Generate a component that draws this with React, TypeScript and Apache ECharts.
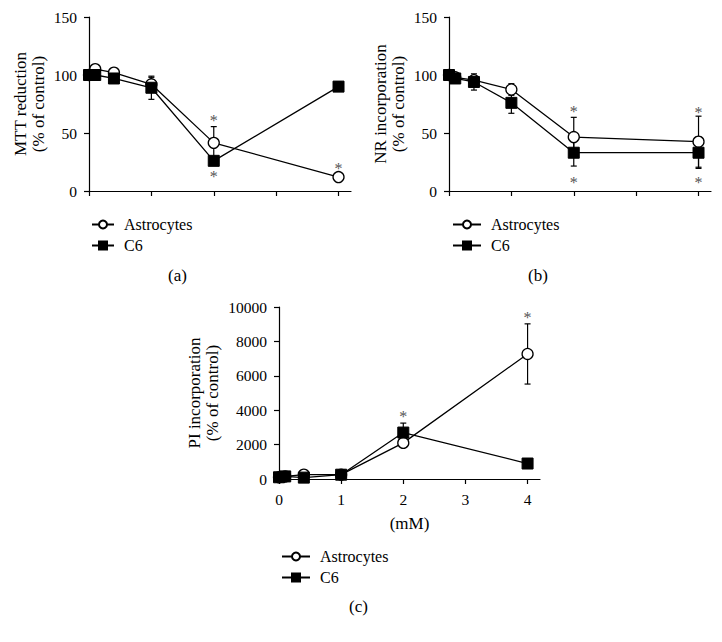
import React, { useEffect, useRef } from "react";
import * as echarts from "echarts";

const doses = [0, 0.1, 0.4, 1, 2, 4];
const xTicks = [0, 1, 2, 3, 4];

const mttAstro = [100, 105, 102, 92, 41.5, 12];
const mttAstroErr = [0, 0, 1, 6, 14, 2];
const mttC6 = [100, 100, 97, 89, 26, 90];
const mttC6Err = [0, 0, 1, 10, 3, 4];
const mttStarX = [2, 2, 4];
const mttStarY = [64, 16, 23];

const nrAstro = [100, 98, 95.5, 87.5, 46.5, 42.5];
const nrAstroErr = [0, 0, 4, 5, 17, 22];
const nrC6 = [100, 97, 94, 76, 33, 33];
const nrC6Err = [0, 1, 7, 9, 11.5, 13.5];
const nrStarX = [2, 2, 4, 4];
const nrStarY = [72, 11, 71.5, 11];

const piAstro = [100, 150, 250, 250, 2100, 7270];
const piAstroErr = [0, 0, 0, 0, 150, 1750];
const piC6 = [100, 150, 80, 250, 2700, 900];
const piC6Err = [0, 0, 0, 0, 550, 100];
const piStarX = [2, 4];
const piStarY = [3850, 9650];

const FONT = "Liberation Serif";

export default function App() {
  const ref = useRef<HTMLDivElement>(null);
  useEffect(() => {
    if (!ref.current) return;
    const chart = echarts.init(ref.current, null, { renderer: "svg" });

    const grids = [
      { left: 89, top: 17, width: 262, height: 174 },
      { left: 449, top: 17, width: 262, height: 174 },
      { left: 279, top: 307, width: 261, height: 172 },
    ];

    const mkX = (i: number, labels: boolean) => ({
      type: "value",
      gridIndex: i,
      min: 0,
      max: 4.2,
      interval: 1,
      splitLine: { show: false },
      axisLine: { lineStyle: { color: "#000", width: 1.2 } },
      axisTick: { show: true, customValues: xTicks, length: 5, lineStyle: { color: "#000", width: 1.2 } },
      axisLabel: {
        show: labels,
        customValues: xTicks,
        color: "#000",
        fontFamily: FONT,
        fontSize: 15.5,
        margin: 12,
      },
      name: labels ? "(mM)" : "",
      nameLocation: "middle",
      nameGap: 36,
      nameTextStyle: { color: "#000", fontFamily: FONT, fontSize: 17 },
    });

    const mkY = (i: number, name: string, max: number, interval: number) => ({
      type: "value",
      gridIndex: i,
      min: 0,
      max,
      interval,
      splitLine: { show: false },
      axisLine: { show: true, lineStyle: { color: "#000", width: 1.2 } },
      axisTick: { show: true, length: 5, lineStyle: { color: "#000", width: 1.2 } },
      axisLabel: {
        color: "#000",
        fontFamily: FONT,
        fontSize: 15.5,
        margin: 12,
        formatter: (v: number) => String(v),
      },
      name,
      nameLocation: "middle",
      nameRotate: 90,
      nameGap: i === 2 ? 58 : 42,
      nameTextStyle: { color: "#000", fontFamily: FONT, fontSize: 17, lineHeight: 18 },
    });

    const errData = (vals: number[], errs: number[]) =>
      doses.map((d, k) => [d, vals[k] - errs[k], vals[k] + errs[k]]);

    const errSeries = (i: number, vals: number[], errs: number[]) => ({
      type: "custom",
      xAxisIndex: i,
      yAxisIndex: i,
      z: 1,
      silent: true,
      encode: { x: 0, y: [1, 2] },
      data: errData(vals, errs).filter((d) => d[2] - d[1] > 0),
      renderItem: (params: any, api: any) => {
        const x = api.value(0);
        const lo = api.coord([x, api.value(1)]);
        const hi = api.coord([x, api.value(2)]);
        const c = 3;
        const st = { stroke: "#000", lineWidth: 1.2 };
        return {
          type: "group",
          children: [
            { type: "line", shape: { x1: lo[0], y1: lo[1], x2: hi[0], y2: hi[1] }, style: st },
            { type: "line", shape: { x1: hi[0] - c, y1: hi[1], x2: hi[0] + c, y2: hi[1] }, style: st },
            { type: "line", shape: { x1: lo[0] - c, y1: lo[1], x2: lo[0] + c, y2: lo[1] }, style: st },
          ],
        };
      },
    });

    const starSeries = (i: number, xs: number[], ys: number[]) => ({
      type: "custom",
      xAxisIndex: i,
      yAxisIndex: i,
      z: 5,
      silent: true,
      encode: { x: 0, y: 1 },
      data: xs.map((x, k) => [x, ys[k]]),
      renderItem: (params: any, api: any) => {
        const p = api.coord([api.value(0), api.value(1)]);
        return {
          type: "text",
          style: {
            text: "*",
            x: p[0],
            y: p[1] + 4,
            align: "center",
            verticalAlign: "middle",
            fill: "#555",
            font: `16px ${FONT}`,
          },
        };
      },
    });

    const astroSeries = (i: number, vals: number[]) => ({
      type: "line",
      name: "Astrocytes",
      xAxisIndex: i,
      yAxisIndex: i,
      z: 3,
      data: doses.map((d, k) => [d, vals[k]]),
      symbol: "circle",
      symbolSize: 11,
      showAllSymbol: true,
      lineStyle: { color: "#000", width: 1.3 },
      itemStyle: { color: "#fff", borderColor: "#000", borderWidth: 1.3 },
    });

    const c6Series = (i: number, vals: number[]) => ({
      type: "line",
      name: "C6",
      xAxisIndex: i,
      yAxisIndex: i,
      z: 4,
      data: doses.map((d, k) => [d, vals[k]]),
      symbol: "rect",
      symbolSize: 11,
      showAllSymbol: true,
      lineStyle: { color: "#000", width: 1.3 },
      itemStyle: { color: "#000", borderColor: "#000", borderWidth: 1 },
    });

    const mkLegend = (left: number, top: number, w: number) => ({
      orient: "vertical",
      left,
      top,
      data: ["Astrocytes", "C6"],
      selectedMode: false,
      itemWidth: w,
      itemHeight: 10,
      itemGap: 4,
      textStyle: { color: "#000", fontFamily: FONT, fontSize: 16, lineHeight: 17, padding: [0, 0, 0, 5] },
    });

    const label = (text: string, x: number, y: number) => ({
      type: "text",
      left: x,
      top: y,
      style: { text, fill: "#000", font: `17px ${FONT}` },
    });

    chart.setOption({
      animation: false,
      backgroundColor: "#fff",
      grid: grids,
      xAxis: [mkX(0, false), mkX(1, false), mkX(2, true)],
      yAxis: [
        mkY(0, "MTT reduction\n(% of control)", 150, 50),
        mkY(1, "NR incorporation\n(% of control)", 150, 50),
        mkY(2, "PI incorporation\n(% of control)", 10000, 2000),
      ],
      legend: [mkLegend(86, 211, 22), mkLegend(447, 211, 28), mkLegend(276, 543, 28)],
      series: [
        errSeries(0, mttAstro, mttAstroErr),
        errSeries(0, mttC6, mttC6Err),
        astroSeries(0, mttAstro),
        c6Series(0, mttC6),
        starSeries(0, mttStarX, mttStarY),
        errSeries(1, nrAstro, nrAstroErr),
        errSeries(1, nrC6, nrC6Err),
        astroSeries(1, nrAstro),
        c6Series(1, nrC6),
        starSeries(1, nrStarX, nrStarY),
        errSeries(2, piAstro, piAstroErr),
        errSeries(2, piC6, piC6Err),
        astroSeries(2, piAstro),
        c6Series(2, piC6),
        starSeries(2, piStarX, piStarY),
      ],
      graphic: [label("(a)", 168, 267), label("(b)", 528, 267), label("(c)", 349, 598)],
    });

    return () => chart.dispose();
  }, []);

  return (
    <div
      ref={ref}
      style={{ position: "absolute", left: 0, top: 0, width: 722, height: 642 }}
    />
  );
}
